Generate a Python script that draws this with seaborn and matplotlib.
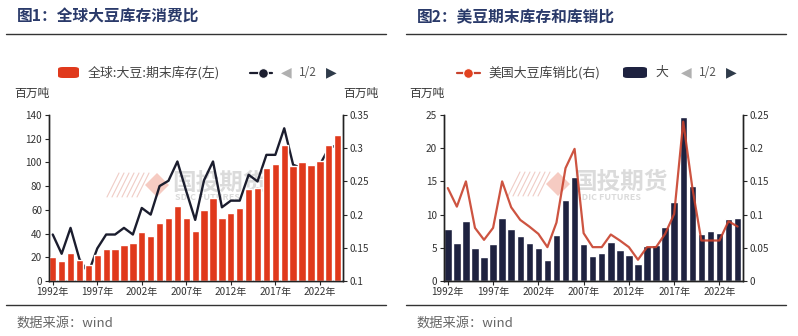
import numpy as np
import pandas as pd
import matplotlib
matplotlib.use("Agg")
import matplotlib.pyplot as plt
import seaborn as sns
from matplotlib.patches import FancyBboxPatch, Polygon
from matplotlib.lines import Line2D
from matplotlib.ticker import FuncFormatter

# ---------------- data ----------------
years = list(range(1992, 2025))
world_stock = [20, 17, 24, 18, 13.5, 21.6, 26.7, 27, 30.6, 32.3, 41, 37.7, 48.6, 52.9, 63,
               53, 42, 60, 70, 53, 57.6, 61.6, 77.6, 78.4, 95.6, 99, 114.4, 97, 100, 98,
               101.5, 115, 123]
world_ratio = [0.170, 0.141, 0.180, 0.133, 0.112, 0.149, 0.170, 0.170, 0.180, 0.170, 0.210,
               0.200, 0.243, 0.251, 0.280, 0.235, 0.192, 0.252, 0.280, 0.211, 0.221, 0.221,
               0.260, 0.250, 0.290, 0.290, 0.330, 0.275, 0.270, 0.270, 0.275, 0.300, 0.305]
us_stock = [7.9, 5.7, 9.1, 5.0, 3.6, 5.5, 9.5, 7.9, 6.8, 5.7, 4.9, 3.1, 7.0, 12.2, 15.6,
            5.6, 3.8, 4.2, 5.9, 4.7, 3.9, 2.6, 5.2, 5.4, 8.2, 11.9, 24.7, 14.3, 7.1, 7.5,
            7.2, 9.3, 9.5]
us_ratio = [0.140, 0.112, 0.150, 0.080, 0.062, 0.080, 0.150, 0.111, 0.092, 0.082, 0.071,
            0.051, 0.088, 0.170, 0.199, 0.072, 0.051, 0.051, 0.070, 0.061, 0.051, 0.032,
            0.051, 0.051, 0.071, 0.101, 0.240, 0.141, 0.061, 0.061, 0.061, 0.090, 0.082]
tick_years = [1992, 1997, 2002, 2007, 2012, 2017, 2022]
left1_ticks = [0, 20, 40, 60, 80, 100, 120, 140]
right1_ticks = [0.1, 0.15, 0.2, 0.25, 0.3, 0.35]
left2_ticks = [0, 5, 10, 15, 20, 25]
right2_ticks = [0, 0.05, 0.1, 0.15, 0.2, 0.25]

titles = ["图1：全球大豆库存消费比", "图2：美豆期末库存和库销比"]
legend1 = "全球:大豆:期末库存(左)"
legend2a = "美国大豆库销比(右)"
legend2b = "大"
unit = "百万吨"
source = "数据来源：wind"

# ---------------- style ----------------
sns.set_theme(style="ticks")
plt.rcParams['font.family'] = ['Noto Sans CJK SC', 'DejaVu Sans']
plt.rcParams['axes.unicode_minus'] = False

RED = "#e0391c"
NAVY = "#1e2240"
DARK = "#1b1d2e"
LRED = "#c8412c"
TITLE_C = "#2a3a6a"
TXT = "#333333"

W, H = 798, 336
fig = plt.figure(figsize=(W / 100, H / 100), dpi=100)
fig.patch.set_facecolor("white")


def fx(x):
    return x / W


def fy(y):
    return 1 - y / H


def style_axes(ax, axr, lt, rt, rfmt):
    for a in (ax, axr):
        a.spines['top'].set_visible(False)
        for s in ('left', 'right', 'bottom'):
            a.spines[s].set_color('#222222')
            a.spines[s].set_linewidth(1.0)
        a.set_xlabel("")
        a.set_ylabel("")
    ax.set_yticks(lt)
    ax.set_ylim(lt[0], lt[-1])
    axr.set_yticks(rt)
    axr.set_ylim(rt[0], rt[-1])
    axr.yaxis.set_major_formatter(FuncFormatter(rfmt))
    ax.tick_params(axis='y', direction='out', length=3, width=0.8, labelsize=7.2,
                   labelcolor=TXT, pad=2)
    axr.tick_params(axis='y', direction='out', length=3, width=0.8, labelsize=7.2,
                    labelcolor=TXT, pad=2)
    idx = [years.index(y) for y in tick_years]
    ax.set_xticks(idx)
    ax.set_xticklabels([f"{y}年" for y in tick_years])
    ax.tick_params(axis='x', direction='out', length=3, width=0.8, labelsize=7.2,
                   labelcolor=TXT, pad=1.5)
    ax.set_xlim(-0.42, len(years) - 1 + 0.6)


def watermark(ax, x0, y0):
    for k in range(7):
        xs = x0 + k * 5
        ax.add_line(Line2D([fx(xs), fx(xs + 12)], [fy(y0 + 12), fy(y0 - 12)],
                           transform=fig.transFigure, color="#e9b7ae", lw=0.8,
                           alpha=0.7, zorder=0.5))
    cx = x0 + 50
    ax.add_patch(Polygon([[fx(cx - 12), fy(y0)], [fx(cx), fy(y0 - 12)],
                          [fx(cx + 12), fy(y0)], [fx(cx), fy(y0 + 12)]],
                         closed=True, transform=fig.transFigure, facecolor="#f0a99a",
                         alpha=0.6, edgecolor="none", zorder=0.5))
    ax.text(fx(cx + 15), fy(y0 - 2), "国投期货", transform=fig.transFigure,
            fontsize=17, color="#cccccc", alpha=0.7, fontweight="bold",
            va="center", ha="left", zorder=0.5)
    ax.text(fx(cx + 18), fy(y0 + 13), "SDIC FUTURES", transform=fig.transFigure,
            fontsize=6.5, color="#cccccc", alpha=0.7, fontweight="bold",
            va="center", ha="left", zorder=0.5)


def pager(xoff):
    fig.text(fx(xoff + 286), fy(72.5), "◀", fontsize=10, color="#b0b0b0",
             ha="center", va="center", family=['DejaVu Sans'])
    fig.text(fx(xoff + 308), fy(72.5), "1/2", fontsize=8.5, color="#555555",
             ha="center", va="center")
    fig.text(fx(xoff + 331), fy(72.5), "▶", fontsize=10, color="#2f3b4a",
             ha="center", va="center", family=['DejaVu Sans'])


def frame(xoff, title):
    fig.text(fx(xoff + 17), fy(17), title, fontsize=11.3, fontweight="bold",
             color=TITLE_C, ha="left", va="center")
    fig.add_artist(Line2D([fx(xoff + 6), fx(xoff + 386)], [fy(34), fy(34)],
                          color="#333333", lw=1.0))
    fig.add_artist(Line2D([fx(xoff + 6), fx(xoff + 386)], [fy(304.5), fy(304.5)],
                          color="#333333", lw=1.0))
    fig.text(fx(xoff + 16), fy(323), source, fontsize=9.5, color="#666666",
             ha="left", va="center", style="italic")


# ---------------- chart 1 ----------------
df1 = pd.DataFrame({"year": [str(y) for y in years], "stock": world_stock,
                    "ratio": world_ratio, "pos": np.arange(len(years))})
ax1 = fig.add_axes([fx(49), fy(281), fx(343) - fx(49), fy(115) - fy(281)])
ax1r = ax1.twinx()
ax1.set_zorder(ax1r.get_zorder() + 1)
ax1.patch.set_visible(False)
sns.lineplot(data=df1, x="pos", y="ratio", color=DARK, lw=1.7, ax=ax1r, zorder=2)
sns.barplot(data=df1, x="year", y="stock", color=RED, saturation=1, width=0.82,
            ax=ax1, zorder=1)
watermark(ax1r, 107, 185)
style_axes(ax1, ax1r, left1_ticks, right1_ticks, lambda v, p: f"{v:g}")

# ---------------- chart 2 ----------------
df2 = pd.DataFrame({"year": [str(y) for y in years], "stock": us_stock,
                    "ratio": us_ratio, "pos": np.arange(len(years))})
ax2 = fig.add_axes([fx(444), fy(281), fx(743) - fx(444), fy(115) - fy(281)])
ax2r = ax2.twinx()
sns.barplot(data=df2, x="year", y="stock", color=NAVY, saturation=1, width=0.82,
            ax=ax2, zorder=1)
sns.lineplot(data=df2, x="pos", y="ratio", color=LRED, lw=1.6, alpha=0.9, ax=ax2r,
             zorder=3)
watermark(ax2, 508, 184)
style_axes(ax2, ax2r, left2_ticks, right2_ticks, lambda v, p: f"{v:g}")

# ---------------- frames / legends ----------------
frame(0, titles[0])
frame(400, titles[1])

# legend 1
fig.add_artist(FancyBboxPatch((fx(58), fy(78)), fx(21), fy(67) - fy(78),
                              boxstyle="round,pad=0.0,rounding_size=0.006",
                              facecolor=RED, edgecolor="none"))
fig.text(fx(88), fy(72.5), legend1, fontsize=9.3, color="#444444", ha="left", va="center")
fig.add_artist(Line2D([fx(250), fx(272)], [fy(72.5), fy(72.5)], color=DARK, lw=1.6))
fig.add_artist(Line2D([fx(263)], [fy(72.5)], marker="o", markersize=7, color=DARK,
                      markeredgecolor="white", markeredgewidth=0.8))
pager(0)
fig.text(fx(14), fy(93), unit, fontsize=8.5, color=TXT, ha="left", va="center")
fig.text(fx(343), fy(93), unit, fontsize=8.5, color=TXT, ha="left", va="center")

# legend 2
fig.add_artist(Line2D([fx(457), fx(480)], [fy(72.5), fy(72.5)], color=LRED, lw=1.6))
fig.add_artist(Line2D([fx(468)], [fy(72.5)], marker="o", markersize=7, color="#e2421f",
                      markeredgecolor="white", markeredgewidth=0.8))
fig.text(fx(488), fy(72.5), legend2a, fontsize=9.3, color="#444444", ha="left", va="center")
fig.add_artist(FancyBboxPatch((fx(623), fy(78)), fx(24), fy(67) - fy(78),
                              boxstyle="round,pad=0.0,rounding_size=0.006",
                              facecolor=NAVY, edgecolor="none"))
fig.text(fx(655), fy(72.5), legend2b, fontsize=9.3, color="#444444", ha="left", va="center")
pager(400)
fig.text(fx(409), fy(93), unit, fontsize=8.5, color=TXT, ha="left", va="center")

fig.savefig("out.png", dpi=100, facecolor="white")
